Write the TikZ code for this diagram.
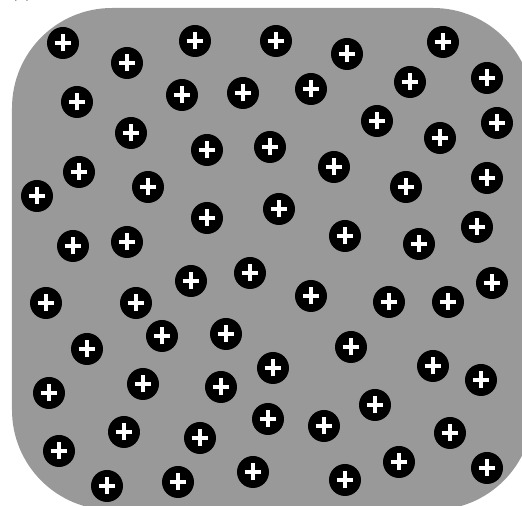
\documentclass[tikz,border=0pt]{standalone}
\usepackage{xcolor}
\usepackage{tikz}

\definecolor{boxgray}{gray}{0.6}

\begin{document}
\begin{tikzpicture}[x=0.02cm, y=-0.02cm,
    charge/.style={circle, fill=black, minimum size=0.64cm, inner sep=0pt,
        path picture={
            \draw[white, line width=2pt] (path picture bounding box.center) +(-0.17cm,0) -- +(0.17cm,0);
            \draw[white, line width=2pt] (path picture bounding box.center) +(0,-0.17cm) -- +(0,0.17cm);
        }}]

    \useasboundingbox (0,0) rectangle (522,506);

    % Label
    \node (label) [anchor=base, font=\small] at (21.5,-2.5) {(a)};

    % Box
    \fill[boxgray, rounded corners=2cm] (12,8) rectangle (533,510);

    % Charges
    \foreach \x/\y [count=\i] in {
        63/43, 127/63, 195/41, 77/102, 182/95, 243/93, 131/133, 207/150,
        79/172, 37/196, 148/187, 207/218, 73/246, 127/242,
        276/41, 347/54, 443/42, 311/89, 410/82, 487/78, 377/121, 440/138,
        497/123, 270/147, 334/167, 406/187, 487/178, 279/209, 477/227,
        345/236, 419/244,
        191/281, 250/273, 46/303, 136/303, 162/336, 226/334, 87/349,
        49/393, 143/384, 221/387, 124/432, 200/438, 59/451, 107/486,
        178/482, 253/472,
        492/283, 311/296, 389/302, 448/302, 351/347, 273/368, 433/366,
        481/380, 268/419, 375/405, 324/426, 450/433, 399/462, 345/480,
        487/468}
        \node (q\i) [charge] at (\x,\y) {};
\end{tikzpicture}
\end{document}
